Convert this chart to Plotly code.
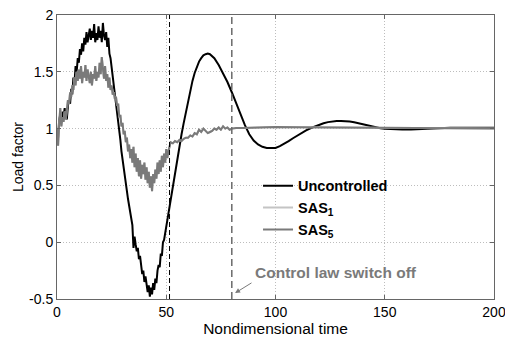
import plotly.graph_objects as go

# ---------------- data ----------------
t_early = [i * 0.5 for i in range(105)]  # 0 ... 52

uncontrolled_early = [
    1.00, 0.92, 1.08, 1.12, 1.05, 1.15, 1.10, 1.18, 1.12, 1.08,
    1.20, 1.25, 1.22, 1.35, 1.30, 1.45, 1.40, 1.55, 1.50, 1.62,
    1.58, 1.70, 1.65, 1.75, 1.68, 1.80, 1.74, 1.85, 1.76, 1.82,
    1.88, 1.78, 1.86, 1.80, 1.92, 1.76, 1.84, 1.78, 1.90, 1.80,
    1.86, 1.76, 1.93, 1.82, 1.78, 1.85, 1.72, 1.80, 1.66, 1.62,
    1.55, 1.45, 1.38, 1.30, 1.22, 1.15, 1.05, 0.98, 0.90, 0.80,
    0.72, 0.66, 0.60, 0.52, 0.45, 0.38, 0.32, 0.28, 0.22, 0.15,
    -0.05, 0.05, -0.02, -0.08, -0.05, -0.15, -0.12, -0.22, -0.28, -0.25,
    -0.35, -0.30, -0.40, -0.44, -0.38, -0.48, -0.40, -0.46, -0.36, -0.42,
    -0.32, -0.36, -0.25, -0.20, -0.22, -0.10, -0.12, 0.00, 0.02, 0.08,
    0.12, 0.18, 0.24, 0.31, 0.38,
]

t_unc_late = [53, 54, 55, 56, 57, 58, 59, 60, 61, 62, 63, 64, 65, 66, 67, 68, 69,
              70, 72, 74, 76, 78, 80, 82, 84, 86, 88, 90, 92, 94, 96, 98, 100,
              102, 104, 106, 108, 110, 112, 114, 116, 118, 120, 122, 124, 126,
              128, 130, 132, 134, 136, 138, 140, 142, 144, 146, 148, 150, 154,
              158, 162, 166, 170, 175, 180, 190, 200]
uncontrolled_late = [0.48, 0.60, 0.72, 0.84, 0.95, 1.05, 1.15, 1.25, 1.34, 1.42,
                     1.49, 1.55, 1.59, 1.62, 1.645, 1.655, 1.66,
                     1.655, 1.62, 1.56, 1.49, 1.41, 1.32, 1.22, 1.12, 1.03, 0.95,
                     0.895, 0.86, 0.84, 0.83, 0.827, 0.83,
                     0.845, 0.865, 0.89, 0.915, 0.94, 0.965, 0.985, 1.003, 1.02,
                     1.035, 1.047, 1.057, 1.063, 1.067, 1.068, 1.066, 1.062,
                     1.055, 1.046, 1.037, 1.027, 1.018, 1.01, 1.003, 0.998,
                     0.993, 0.992, 0.993, 0.997, 1.001, 1.005, 1.007, 1.008, 1.008]

sas5_early = [
    1.00, 0.85, 1.05, 1.18, 1.02, 1.10, 1.06, 1.15, 1.08, 1.20,
    1.25, 1.22, 1.32, 1.28, 1.38, 1.34, 1.45, 1.38, 1.50, 1.42,
    1.52, 1.44, 1.55, 1.40, 1.50, 1.45, 1.56, 1.42, 1.52, 1.46,
    1.40, 1.50, 1.38, 1.48, 1.44, 1.55, 1.42, 1.50, 1.45, 1.58,
    1.48, 1.63, 1.50, 1.44, 1.55, 1.42, 1.48, 1.36, 1.45, 1.34,
    1.38, 1.30, 1.32, 1.26, 1.28, 1.20, 1.22, 1.10, 1.12, 1.02,
    1.05, 0.95, 0.98, 0.88, 0.92, 0.80, 0.86, 0.74, 0.82, 0.70,
    0.84, 0.66, 0.78, 0.62, 0.74, 0.58, 0.72, 0.56, 0.68, 0.60,
    0.70, 0.55, 0.66, 0.52, 0.62, 0.48, 0.58, 0.45, 0.60, 0.52,
    0.64, 0.56, 0.70, 0.60, 0.72, 0.62, 0.76, 0.66, 0.78, 0.70,
    0.82, 0.74, 0.80, 0.86, 0.88,
]

t_sas_late = [53, 54, 55, 56, 57, 58, 59, 60, 61, 62, 63, 64, 65, 66, 67, 68,
              69, 70, 71, 72, 73, 74, 75, 76, 77, 78, 79, 80, 82, 85, 90, 95,
              100, 110, 120, 130, 150, 170, 200]
sas5_late = [0.87, 0.89, 0.88, 0.90, 0.89, 0.91, 0.92, 0.92, 0.94, 0.93, 0.96,
             0.95, 0.99, 0.97, 1.00, 0.98, 0.96, 0.97, 0.98, 1.00, 0.99, 1.01,
             0.99, 1.02, 1.00, 1.01, 0.99, 1.00, 1.005, 1.005, 1.01, 1.012,
             1.015, 1.012, 1.01, 1.008, 1.005, 1.003, 1.00]

# SAS1 is indistinguishable from SAS5 in the picture (drawn underneath)
sas1_early = list(sas5_early)
sas1_late = list(sas5_late)

x_ticks = [0, 50, 100, 150, 200]
x_tick_labels = ["0", "50", "100", "150", "200"]
y_ticks = [-0.5, 0, 0.5, 1, 1.5, 2]
y_tick_labels = ["-0.5", "0", "0.5", "1", "1.5", "2"]

t_switch_sas = 51.5      # black dashed marker
t_switch_off = 80        # grey dashed marker "Control law switch off"
arrow_head = (81.5, -0.448)
arrow_tail = (89.7, -0.35)
label_pos = (89.7, -0.27)

# ---------------- figure ----------------
FONT = "Liberation Sans, Arial, sans-serif"
fig = go.Figure()

fig.add_trace(go.Scatter(x=t_early + t_unc_late, y=uncontrolled_early + uncontrolled_late,
                         mode="lines", name="<b>Uncontrolled</b>",
                         line=dict(color="#000000", width=2)))
fig.add_trace(go.Scatter(x=t_early + t_sas_late, y=sas1_early + sas1_late,
                         mode="lines", name="<b>SAS<sub>1</sub></b>",
                         line=dict(color="#c4c4c4", width=2)))
fig.add_trace(go.Scatter(x=t_early + t_sas_late, y=sas5_early + sas5_late,
                         mode="lines", name="<b>SAS<sub>5</sub></b>",
                         line=dict(color="#7a7a7a", width=2)))

fig.add_vline(x=t_switch_sas, line=dict(color="#000000", width=1, dash="5px,3px"))
fig.add_vline(x=t_switch_off, line=dict(color="#6a6a6a", width=1.5, dash="7px,4px"))

fig.add_annotation(x=arrow_head[0], y=arrow_head[1], ax=arrow_tail[0], ay=arrow_tail[1],
                   axref="x", ayref="y", xref="x", yref="y", text="",
                   showarrow=True, arrowhead=2, arrowsize=1, arrowwidth=1,
                   arrowcolor="#7a7a7a", standoff=0, startstandoff=0)
fig.add_annotation(x=label_pos[0], y=label_pos[1], xref="x", yref="y",
                   text="<b>Control law switch off</b>", showarrow=False,
                   xanchor="left", yanchor="middle",
                   font=dict(family=FONT, size=15.5, color="#7a7a7a"))

axis_common = dict(showline=True, linecolor="#666666", linewidth=1, mirror="ticks",
                   ticks="inside", ticklen=4, tickcolor="#666666",
                   showgrid=True, gridcolor="#bdbdbd", griddash="1px,2px", gridwidth=1,
                   zeroline=False, ticklabeloverflow="allow",
                   tickfont=dict(family=FONT, size=14, color="#000000"))

fig.update_xaxes(range=[0, 200], tickvals=x_ticks, ticktext=x_tick_labels,
                 title=dict(text="Nondimensional time", standoff=6,
                            font=dict(family=FONT, size=15.5, color="#000000")),
                 **axis_common)
fig.update_yaxes(range=[-0.5, 2], tickvals=y_ticks, ticktext=y_tick_labels,
                 title=dict(text="Load factor", standoff=2,
                            font=dict(family=FONT, size=14, color="#000000")),
                 **axis_common)

fig.update_layout(
    width=505, height=337,
    margin=dict(l=57, r=11, t=15, b=38, autoexpand=False),
    plot_bgcolor="#ffffff", paper_bgcolor="#ffffff",
    font=dict(family=FONT, size=14, color="#000000"),
    legend=dict(x=0.46, y=0.455, xanchor="left", yanchor="top",
                bgcolor="rgba(0,0,0,0)", borderwidth=0, tracegroupgap=0,
                font=dict(family=FONT, size=14.5, color="#000000")),
)

fig.write_html("out.html")
